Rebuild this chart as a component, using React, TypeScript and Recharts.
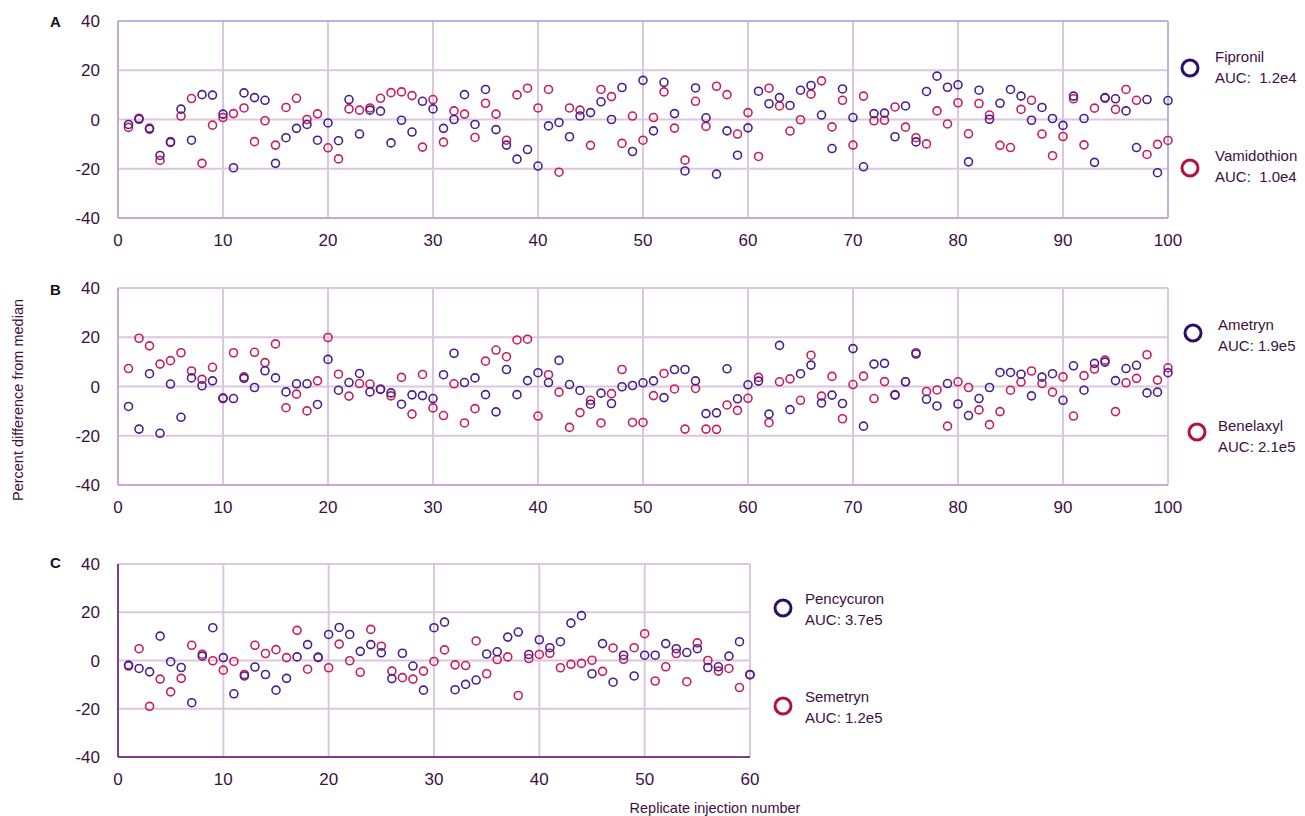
import React from "react";
import {
  ScatterChart, Scatter, XAxis, YAxis, CartesianGrid, ReferenceLine,
} from "recharts";

// percent difference from median, one value per replicate injection (1..n)
const fipronil = [
  -2.0, 0.1, -3.9, -14.6, -9.3, 4.2, -8.4, 10.1, 9.9, 2.2,
  -19.6, 10.8, 8.9, 7.8, -17.8, -7.4, -3.6, -2.0, -8.4, -1.4,
  -8.6, 8.1, -5.9, 3.8, 3.4, -9.5, -0.3, -5.1, 7.4, 4.3,
  -3.6, 0.0, 10.1, -2.0, 12.2, -4.1, -10.4, -16.1, -12.2, -18.9,
  -2.6, -1.2, -7.0, 1.4, 2.8, 7.2, 0.0, 13.0, -13.0, 15.9,
  -4.6, 15.1, 2.4, -20.9, 12.8, 0.7, -22.2, -4.6, -14.5, -3.4,
  11.5, 6.4, 8.9, 5.7, 11.9, 13.8, 1.8, -11.8, 12.4, 0.8,
  -19.2, 2.4, 2.6, -7.0, 5.5, -9.1, 11.4, 17.6, 13.1, 14.1,
  -17.2, 11.9, 0.1, 6.6, 12.2, 9.5, -0.3, 4.9, 0.4, -2.4,
  9.5, 0.4, -17.4, 8.9, 8.4, 3.5, -11.4, 8.1, -21.6, 7.7,
];
const vamidothion = [
  -3.2, 0.5, -3.5, -16.6, -9.0, 1.4, 8.5, -17.8, -2.3, 0.8,
  2.4, 4.7, -9.0, -0.5, -10.4, 4.9, 8.6, 0.0, 2.3, -11.5,
  -16.0, 4.3, 3.8, 4.7, 8.6, 10.9, 11.2, 9.7, -11.2, 8.1,
  -9.2, 3.5, 2.2, -7.3, 6.6, 2.2, -8.4, 10.0, 12.7, 4.7,
  12.2, -21.4, 4.7, 3.8, -10.5, 12.2, 9.3, -9.7, 1.4, -8.4,
  0.8, 11.2, -3.5, -16.5, 7.4, -2.8, 13.5, 10.1, -5.9, 2.8,
  -15.0, 12.7, 5.5, -4.7, -0.1, 10.3, 15.7, -3.0, 7.8, -10.4,
  9.5, -0.5, -0.3, 5.1, -3.1, -7.4, -9.9, 3.5, -1.8, 6.8,
  -5.8, 6.5, 1.8, -10.5, -11.4, 4.1, 7.8, -5.9, -14.7, -6.9,
  8.4, -10.3, 4.6, 8.6, 4.1, 12.2, 7.8, -14.2, -10.1, -8.5,
];
const ametryn = [
  -8.1, -17.3, 5.2, -19.0, 1.0, -12.5, 3.5, 0.3, 2.3, -4.9,
  -4.9, 3.3, -0.4, 6.4, 3.5, -2.2, 1.1, 1.1, -7.3, 11.0,
  -1.5, 1.6, 5.3, -2.2, -1.2, -2.6, -7.2, -3.4, -3.7, -4.9,
  4.8, 13.5, 1.6, 3.5, -3.3, -10.3, 6.9, -3.3, 2.4, 5.6,
  1.6, 10.6, 0.8, -1.6, -7.2, -2.7, -6.9, -0.1, 0.4, 1.5,
  2.3, -4.5, 6.9, 6.9, 2.3, -11.0, -10.7, 7.2, -5.0, 0.7,
  2.2, -11.2, 16.7, -9.4, 5.2, 8.7, -6.7, -3.5, -6.9, 15.4,
  -16.1, 9.1, 9.4, -3.5, 1.9, 13.2, -5.2, -7.9, 1.2, -7.1,
  -11.8, -4.9, -0.4, 5.7, 5.7, 5.0, -3.8, 3.8, 5.2, -5.6,
  8.4, -1.5, 9.4, 9.9, 2.4, 7.3, 8.6, -2.6, -2.3, 5.6,
];
const benelaxyl = [
  7.3, 19.6, 16.5, 9.1, 10.5, 13.7, 6.3, 2.9, 7.8, -4.6,
  13.7, 3.9, 13.9, 9.7, 17.3, -8.6, -3.1, -9.9, 2.3, 19.9,
  5.0, -3.9, 1.2, 1.0, -1.0, -3.8, 3.7, -11.2, 4.9, -8.7,
  -11.8, 1.1, -14.8, -9.0, 10.3, 14.8, 12.1, 18.9, 19.2, -12.0,
  4.8, -2.3, -16.6, -10.6, -5.6, -14.8, -2.9, 6.9, -14.6, -14.6,
  -3.7, 5.3, -1.0, -17.3, -0.8, -17.3, -17.4, -7.5, -9.7, -4.8,
  3.7, -14.7, 1.9, 3.1, -5.6, 12.7, -3.9, 4.1, -13.1, 0.8,
  4.2, -4.9, 2.0, -3.3, 1.9, 13.7, -2.0, -1.4, -16.1, 1.9,
  -0.4, -9.5, -15.5, -10.2, -1.5, 1.8, 6.3, 1.2, -2.3, 3.9,
  -12.0, 4.4, 7.1, 10.7, -10.2, 1.5, 3.3, 12.9, 2.6, 7.6,
];
const pencycuron = [
  -1.9, -3.3, -4.7, 10.1, -0.5, -2.9, -17.5, 1.8, 13.6, 1.2,
  -13.8, -6.4, -2.7, -5.8, -12.3, -7.4, 1.5, 6.6, 1.4, 10.8,
  13.7, 10.8, 3.8, 6.6, 3.2, -7.5, 3.0, -2.3, -12.3, 13.6,
  15.9, -12.1, -9.9, -8.1, 2.7, 3.6, 9.7, 11.8, 2.5, 8.6,
  5.3, 7.8, 15.5, 18.6, -5.5, 7.0, -9.0, 2.2, -6.4, 2.2,
  2.2, 7.0, 4.9, 3.3, 4.9, -2.9, -2.6, 1.8, 7.8, -5.8,
];
const semetryn = [
  -2.3, 4.9, -19.0, -7.7, -13.0, -7.4, 6.3, 2.6, -0.1, -4.0,
  -0.4, -5.8, 6.3, 2.9, 4.5, 1.2, 12.5, -3.6, 1.2, -3.0,
  6.8, -0.1, -4.9, 12.9, 5.9, -4.4, -7.1, -7.7, -4.4, -0.4,
  4.4, -1.8, -2.1, 8.1, -5.5, 0.4, 1.5, -14.5, 0.8, 2.5,
  3.0, -3.0, -1.6, -1.2, 0.1, -4.5, 5.2, 0.5, 5.3, 11.1,
  -8.5, -2.6, 2.9, -8.8, 7.3, 0.0, -4.4, -3.3, -11.2, -6.0,
];

const yTicks = [-40, -20, 0, 20, 40];
const xTicks100 = [0, 10, 20, 30, 40, 50, 60, 70, 80, 90, 100];
const xTicks60 = [0, 10, 20, 30, 40, 50, 60];

const PURPLE = "#46208e";
const RED = "#c81e5a";
const TEXT = "#3b1142";
const FONT = "'Liberation Sans', Arial, sans-serif";

const toPts = (ys: number[]) => ys.map((y, i) => ({ x: i + 1, y }));

const ring = (color: string) => (p: any) => (
  <circle cx={p.cx} cy={p.cy} r={4} fill="none" stroke={color} strokeWidth={1.6} />
);

function Panel({
  top, right, marginTop, marginBottom, xMax, xTicks, a, b, frame, topLine,
}: {
  top: number; right: number; marginTop: number; marginBottom: number;
  xMax: number; xTicks: number[]; a: number[]; b: number[];
  frame: string; topLine?: string;
}) {
  const tick = { fill: TEXT, fontSize: 17, fontFamily: FONT };
  return (
    <div style={{ position: "absolute", left: 0, top }}>
      <ScatterChart
        width={1305}
        height={260}
        margin={{ top: marginTop, right, bottom: marginBottom, left: 58 }}
      >
        <CartesianGrid stroke="#dcc6e0" strokeWidth={2} />
        <XAxis
          type="number" dataKey="x" domain={[0, xMax]} ticks={xTicks} interval={0}
          height={30} tickSize={0} tickMargin={16} tick={tick}
          axisLine={{ stroke: frame, strokeWidth: 2 }} tickLine={false}
        />
        <YAxis
          type="number" dataKey="y" domain={[-40, 40]} ticks={yTicks} interval={0}
          width={60} tickSize={0} tickMargin={18} tick={tick}
          axisLine={{ stroke: frame, strokeWidth: 2 }} tickLine={false}
        />
        {topLine && <ReferenceLine y={40} stroke={topLine} strokeWidth={2} />}
        {topLine && <ReferenceLine x={xMax} stroke={topLine} strokeWidth={2} />}
        <Scatter data={toPts(b)} shape={ring(RED)} isAnimationActive={false} />
        <Scatter data={toPts(a)} shape={ring(PURPLE)} isAnimationActive={false} />
      </ScatterChart>
    </div>
  );
}

function LegendItem({ cx, cy, color, left, textTop, name, auc }: {
  cx: number; cy: number; color: string; left: number; textTop: number; name: string; auc: string;
}) {
  return (
    <>
      <svg style={{ position: "absolute", left: cx - 11, top: cy - 11 }} width={22} height={22}>
        <circle cx={11} cy={11} r={8} fill="none" stroke={color} strokeWidth={3} />
      </svg>
      <div style={{
        position: "absolute", left, top: textTop, fontSize: 15, lineHeight: "21px",
        color: TEXT, whiteSpace: "pre",
      }}>
        {name}<br />{auc}
      </div>
    </>
  );
}

const letterStyle: React.CSSProperties = {
  position: "absolute", left: 50, fontWeight: "bold", fontSize: 15, color: "#1c0c22",
};

export default function App() {
  return (
    <div style={{
      position: "absolute", left: 0, top: 0, width: 1305, height: 816,
      background: "#fff", fontFamily: FONT, overflow: "hidden",
    }}>
      <Panel top={0} right={137} marginTop={21} marginBottom={12} xMax={100}
        xTicks={xTicks100} a={fipronil} b={vamidothion} frame="#c8a8d0" topLine="#b6b4e2" />
      <Panel top={268} right={137} marginTop={20} marginBottom={13} xMax={100}
        xTicks={xTicks100} a={ametryn} b={benelaxyl} frame="#c8a8d0" />
      <Panel top={544} right={555} marginTop={20} marginBottom={17} xMax={60}
        xTicks={xTicks60} a={pencycuron} b={semetryn} frame="#7b3f82" />

      <div style={{ ...letterStyle, top: 13 }}>A</div>
      <div style={{ ...letterStyle, top: 281 }}>B</div>
      <div style={{ ...letterStyle, top: 554 }}>C</div>

      <LegendItem cx={1190} cy={68} color="#2d0f6b" left={1215} textTop={46} name="Fipronil" auc="AUC:  1.2e4" />
      <LegendItem cx={1190} cy={168} color="#b3123f" left={1215} textTop={145} name="Vamidothion" auc="AUC:  1.0e4" />
      <LegendItem cx={1193} cy={333} color="#2d0f6b" left={1218} textTop={314} name="Ametryn" auc="AUC: 1.9e5" />
      <LegendItem cx={1197} cy={432} color="#b3123f" left={1218} textTop={415} name="Benelaxyl" auc="AUC: 2.1e5" />
      <LegendItem cx={783} cy={608} color="#2d0f6b" left={805} textTop={588} name="Pencycuron" auc="AUC: 3.7e5" />
      <LegendItem cx={783} cy={706} color="#b3123f" left={805} textTop={686} name="Semetryn" auc="AUC: 1.2e5" />

      <div style={{
        position: "absolute", left: 18, top: 400, transform: "translate(-50%, -50%) rotate(-90deg)",
        fontSize: 14.5, color: TEXT, whiteSpace: "nowrap",
      }}>
        Percent difference from median
      </div>
      <div style={{
        position: "absolute", left: 715, top: 808, transform: "translate(-50%, -50%)",
        fontSize: 14.5, color: TEXT, whiteSpace: "nowrap",
      }}>
        Replicate injection number
      </div>
    </div>
  );
}
